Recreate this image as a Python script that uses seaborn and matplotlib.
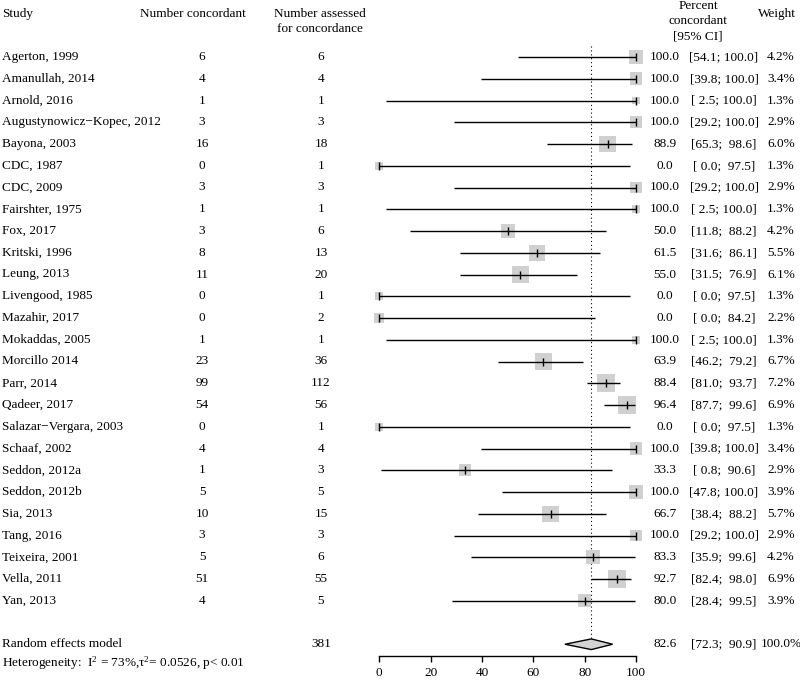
import numpy as np
import pandas as pd
import matplotlib
matplotlib.use("Agg")
import matplotlib.pyplot as plt
import matplotlib.transforms as mtransforms
import seaborn as sns

# ---------------- data ----------------
studies = ["Agerton, 1999", "Amanullah, 2014", "Arnold, 2016", "Augustynowicz\u2212Kopec, 2012",
           "Bayona, 2003", "CDC, 1987", "CDC, 2009", "Fairshter, 1975", "Fox, 2017",
           "Kritski, 1996", "Leung, 2013", "Livengood, 1985", "Mazahir, 2017", "Mokaddas, 2005",
           "Morcillo 2014", "Parr, 2014", "Qadeer, 2017", "Salazar\u2212Vergara, 2003", "Schaaf, 2002",
           "Seddon, 2012a", "Seddon, 2012b", "Sia, 2013", "Tang, 2016", "Teixeira, 2001",
           "Vella, 2011", "Yan, 2013"]
n_concordant = [6, 4, 1, 3, 16, 0, 3, 1, 3, 8, 11, 0, 0, 1, 23, 99, 54, 0, 4, 1, 5, 10, 3, 5, 51, 4]
n_assessed = [6, 4, 1, 3, 18, 1, 3, 1, 6, 13, 20, 1, 2, 1, 36, 112, 56, 1, 4, 3, 5, 15, 3, 6, 55, 5]
percent = [100.0, 100.0, 100.0, 100.0, 88.9, 0.0, 100.0, 100.0, 50.0, 61.5, 55.0, 0.0, 0.0, 100.0,
           63.9, 88.4, 96.4, 0.0, 100.0, 33.3, 100.0, 66.7, 100.0, 83.3, 92.7, 80.0]
ci_lower = [54.1, 39.8, 2.5, 29.2, 65.3, 0.0, 29.2, 2.5, 11.8, 31.6, 31.5, 0.0, 0.0, 2.5,
            46.2, 81.0, 87.7, 0.0, 39.8, 0.8, 47.8, 38.4, 29.2, 35.9, 82.4, 28.4]
ci_upper = [100.0, 100.0, 100.0, 100.0, 98.6, 97.5, 100.0, 100.0, 88.2, 86.1, 76.9, 97.5, 84.2, 100.0,
            79.2, 93.7, 99.6, 97.5, 100.0, 90.6, 100.0, 88.2, 100.0, 99.6, 98.0, 99.5]
weight = [4.2, 3.4, 1.3, 2.9, 6.0, 1.3, 2.9, 1.3, 4.2, 5.5, 6.1, 1.3, 2.2, 1.3,
          6.7, 7.2, 6.9, 1.3, 3.4, 2.9, 3.9, 5.7, 2.9, 4.2, 6.9, 3.9]

summary_label = "Random effects model"
summary_total = 381
summary_est = 82.6
summary_lo = 72.3
summary_hi = 90.9
summary_weight = "100.0%"
heterogeneity = r"Heterogeneity:  $\mathregular{I^2}$ = 73%,$\mathregular{\tau^2}$= 0.0526, p< 0.01"
x_ticks = [0, 20, 40, 60, 80, 100]

df = pd.DataFrame({"study": studies, "conc": n_concordant, "n": n_assessed,
                   "est": percent, "lo": ci_lower, "hi": ci_upper, "w": weight})
df["row"] = np.arange(len(df))
summary_row = len(df) + 1

# ---------------- style ----------------
sns.set_style("white")
plt.rcParams["font.family"] = ["Liberation Serif", "DejaVu Serif"]
plt.rcParams["mathtext.fontset"] = "stix"
plt.rcParams["font.size"] = 9.5

W, H = 800, 681
fig = plt.figure(figsize=(W / 100, H / 100), dpi=100)
ax_left, ax_right, ax_bottom_px = 379.3, 636.0, 655.7
ax = fig.add_axes([ax_left / W, (H - ax_bottom_px) / H, (ax_right - ax_left) / W, ax_bottom_px / H])
ax.patch.set_alpha(0)

row0_px, row_step = 57.0, 21.75
ax.set_xlim(0, 100)
ax.set_ylim((ax_bottom_px - row0_px) / row_step, -row0_px / row_step)

# squares (area proportional to weight)
sns.scatterplot(data=df, x="est", y="row", size="w", sizes=(0, 241), size_norm=(0, 10),
                marker="s", color="#d0d0d0", linewidth=0, legend=False, ax=ax, zorder=2, clip_on=False)
# CI lines
ax.hlines(df["row"], df["lo"], df["hi"], color="black", lw=1.0, zorder=3)
# point marks
sns.scatterplot(data=df, x="est", y="row", marker="|", s=30, color="black", linewidth=1.0,
                legend=False, ax=ax, zorder=4, clip_on=False)

# summary line and diamond
ax.vlines(summary_est, -0.5, summary_row - 0.25, colors="black", linestyles=(0, (1, 2.5)), lw=0.8, zorder=1)
dh = 0.245
ax.fill([summary_lo, summary_est, summary_hi, summary_est],
        [summary_row, summary_row - dh, summary_row, summary_row + dh],
        facecolor="#d3d3d3", edgecolor="black", lw=1.0, zorder=3)

# axes cosmetics
for s in ["left", "top", "right"]:
    ax.spines[s].set_visible(False)
ax.spines["bottom"].set_bounds(0, 100)
ax.spines["bottom"].set_linewidth(1.0)
ax.spines["bottom"].set_color("black")
ax.set_xticks(x_ticks)
ax.set_xticklabels([str(t) for t in x_ticks])
ax.set_yticks([])
ax.set_xlabel("")
ax.set_ylabel("")
ax.tick_params(axis="x", which="major", bottom=True, direction="out", length=4.0, width=1.0,
               pad=4, color="black", labelcolor="black", labelsize=9.5)

# ---------------- text columns ----------------
tr = mtransforms.blended_transform_factory(fig.transFigure, ax.transData)

def px_row(y):
    return (y - row0_px) / row_step

def put(xpx, row, s, ha="center"):
    fig.text(xpx / W, row, s, transform=tr, ha=ha, va="center", color="black")

# headers
put(2, px_row(14), "Study", ha="left")
put(192.5, px_row(14), "Number concordant")
put(320, px_row(14), "Number assessed")
put(320, px_row(29), "for concordance")
put(698, px_row(6), "Percent")
put(698, px_row(21.5), "concordant")
put(698, px_row(36.5), "[95% CI]")
put(777, px_row(14), "Weight")

x_conc, x_n, x_est, x_ci, x_w = 202, 321, 665, 724, 781
for _, r in df.iterrows():
    put(2, r["row"], r["study"], ha="left")
    put(x_conc, r["row"], f"{r['conc']}")
    put(x_n, r["row"], f"{r['n']}")
    put(x_est, r["row"], f"{r['est']:.1f}")
    put(x_ci, r["row"], f"[{r['lo']:4.1f}; {r['hi']:5.1f}]")
    put(x_w, r["row"], f"{r['w']:.1f}%")

put(2, summary_row, summary_label, ha="left")
put(x_n, summary_row, f"{summary_total}")
put(x_est, summary_row, f"{summary_est:.1f}")
put(x_ci, summary_row, f"[{summary_lo:4.1f}; {summary_hi:5.1f}]")
put(x_w, summary_row, summary_weight)
put(2, px_row(663), heterogeneity, ha="left")

fig.savefig("out.png", dpi=100)
